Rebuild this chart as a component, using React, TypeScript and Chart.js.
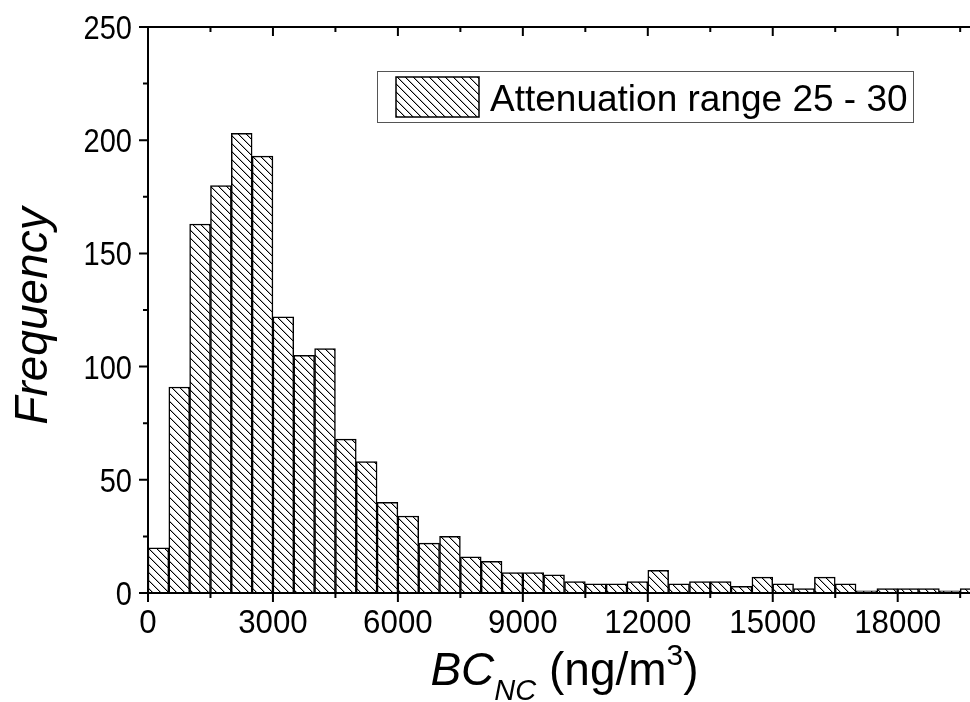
import React, { useEffect, useRef } from "react";
import { Chart, registerables } from "chart.js";

Chart.register(...registerables);

// Histogram bins (start of each 500 ng/m3 bin)
const binStarts = [
  0, 500, 1000, 1500, 2000, 2500, 3000, 3500, 4000, 4500,
  5000, 5500, 6000, 6500, 7000, 7500, 8000, 8500, 9000, 9500,
  10000, 10500, 11000, 11500, 12000, 12500, 13000, 13500, 14000, 14500,
  15000, 15500, 16000, 16500, 17000, 17500, 18000, 18500, 19000, 19500,
];
const binWidth = 500;
const frequencies = [
  20, 91, 163, 180, 203, 193, 122, 105, 108, 68,
  58, 40, 34, 22, 25, 16, 14, 9, 9, 8,
  5, 4, 4, 5, 10, 4, 5, 5, 3, 7,
  4, 2, 7, 4, 1, 2, 2, 2, 1, 2,
];
const xMajorTicks = [0, 3000, 6000, 9000, 12000, 15000, 18000];
const xMinorTicks = [1500, 4500, 7500, 10500, 13500, 16500, 19500];
const yMajorTicks = [0, 50, 100, 150, 200, 250];
const yMinorTicks = [25, 75, 125, 175, 225];
const legendLabel = "Attenuation range 25 - 30";
const yTitle = "Frequency";

const FONT = '"Liberation Sans", Arial, Helvetica, sans-serif';

function makeHatch(): CanvasPattern | string {
  const s = 8;
  const c = document.createElement("canvas");
  c.width = s;
  c.height = s;
  const g = c.getContext("2d");
  if (!g) return "#fff";
  g.fillStyle = "#fff";
  g.fillRect(0, 0, s, s);
  g.fillStyle = "#000";
  for (let i = 0; i < s; i++) g.fillRect(i, i, 1, 1);
  g.fillStyle = "rgba(0,0,0,0.3)";
  for (let i = 0; i < s; i++) g.fillRect((i + 1) % s, i, 1, 1);
  const p = g.createPattern(c, "repeat");
  return p || "#fff";
}

function drawScaledText(ctx: any, text: string, x: number, y: number, sx: number, align: string) {
  const w = ctx.measureText(text).width * sx;
  let left = x;
  if (align === "center") left = x - w / 2;
  else if (align === "right") left = x - w;
  ctx.save();
  ctx.translate(left, y);
  ctx.scale(sx, 1);
  ctx.textAlign = "left";
  ctx.fillText(text, 0, 0);
  ctx.restore();
}

const axesPlugin = {
  id: "customAxes",
  afterDraw(chart: any) {
    const { ctx, chartArea: a, scales } = chart;
    const xs = scales.x;
    const ys = scales.y;
    ctx.save();
    ctx.strokeStyle = "#000";
    ctx.lineWidth = 2;
    ctx.lineCap = "square";
    ctx.beginPath();
    ctx.moveTo(a.left, a.top);
    ctx.lineTo(a.right, a.top);
    ctx.moveTo(a.left, a.top);
    ctx.lineTo(a.left, a.bottom);
    ctx.moveTo(a.left, a.bottom);
    ctx.lineTo(a.right, a.bottom);
    ctx.moveTo(a.right, a.top);
    ctx.lineTo(a.right, a.bottom);
    ctx.stroke();

    ctx.lineCap = "butt";
    ctx.beginPath();
    const tick = (v: number, len: number) => {
      const x = xs.getPixelForValue(v);
      ctx.moveTo(x, a.bottom);
      ctx.lineTo(x, a.bottom + len);
      ctx.moveTo(x, a.top);
      ctx.lineTo(x, a.top + len);
    };
    xMajorTicks.forEach((v) => tick(v, 9));
    xMinorTicks.forEach((v) => tick(v, 5));
    const ytick = (v: number, len: number) => {
      const y = ys.getPixelForValue(v);
      ctx.moveTo(a.left, y);
      ctx.lineTo(a.left - len, y);
      ctx.moveTo(a.right, y);
      ctx.lineTo(a.right - len, y);
    };
    yMajorTicks.forEach((v) => ytick(v, 9));
    yMinorTicks.forEach((v) => ytick(v, 5));
    ctx.stroke();

    // tick labels
    ctx.fillStyle = "#000";
    ctx.textBaseline = "alphabetic";
    ctx.font = `34px ${FONT}`;
    xMajorTicks.forEach((v) => {
      drawScaledText(ctx, String(v), xs.getPixelForValue(v), a.bottom + 40, 0.92, "center");
    });
    ctx.font = `33px ${FONT}`;
    yMajorTicks.forEach((v) => {
      drawScaledText(ctx, String(v), a.left - 16, ys.getPixelForValue(v) + 12, 0.88, "right");
    });

    // y title
    ctx.save();
    ctx.translate(34, 316);
    ctx.rotate(-Math.PI / 2);
    ctx.font = `italic 46px ${FONT}`;
    ctx.textAlign = "center";
    ctx.textBaseline = "middle";
    ctx.fillText(yTitle, 0, 0);
    ctx.restore();

    // x title: BC_NC (ng/m^3)
    const parts: [string, string, number][] = [
      ["BC", `italic 46px ${FONT}`, 0],
      ["NC", `italic 29px ${FONT}`, 15],
      [" (ng/m", `46px ${FONT}`, 0],
      ["3", `30px ${FONT}`, -20],
      [")", `46px ${FONT}`, 0],
    ];
    let total = 0;
    const widths = parts.map(([t, f]) => {
      ctx.font = f;
      const w = ctx.measureText(t).width;
      total += w;
      return w;
    });
    let x = (a.left + a.right) / 2 - total / 2;
    const base = 685;
    ctx.textAlign = "left";
    ctx.textBaseline = "alphabetic";
    parts.forEach(([t, f, dy], i) => {
      ctx.font = f;
      ctx.fillText(t, x, base + dy);
      x += widths[i];
    });

    // legend
    ctx.lineWidth = 1;
    ctx.strokeStyle = "#555";
    ctx.strokeRect(377.5, 71.5, 536, 51);
    const pat = (chart.data.datasets[0] as any).backgroundColor;
    ctx.fillStyle = pat;
    ctx.fillRect(396, 77, 83, 40);
    ctx.lineWidth = 1.5;
    ctx.strokeStyle = "#000";
    ctx.strokeRect(396, 77, 83, 40);
    ctx.fillStyle = "#000";
    ctx.font = `37px ${FONT}`;
    ctx.textAlign = "left";
    ctx.textBaseline = "alphabetic";
    ctx.fillText(legendLabel, 490, 111);
    ctx.restore();
  },
};

export default function App() {
  const ref = useRef<HTMLCanvasElement | null>(null);
  useEffect(() => {
    const canvas = ref.current;
    if (!canvas) return;
    const hatch = makeHatch();
    const chart = new Chart(canvas, {
      type: "bar",
      data: {
        datasets: [
          {
            label: legendLabel,
            data: binStarts.map((s, i) => ({ x: s + binWidth / 2, y: frequencies[i] })),
            backgroundColor: hatch as any,
            borderColor: "#000",
            borderWidth: 1.5,
            barPercentage: 1,
            categoryPercentage: 1,
          },
        ],
      },
      options: {
        animation: false,
        responsive: false,
        devicePixelRatio: 1,
        layout: { padding: { left: 148, top: 27, right: 19, bottom: 109 } },
        plugins: { legend: { display: false }, tooltip: { enabled: false } },
        scales: {
          x: { type: "linear", min: 0, max: 20000, offset: false, display: false },
          y: { type: "linear", min: 0, max: 250, display: false },
        },
      },
      plugins: [axesPlugin],
    });
    return () => chart.destroy();
  }, []);
  return (
    <div
      style={{
        position: "fixed",
        left: 0,
        top: 0,
        width: 970,
        height: 702,
        overflow: "hidden",
        background: "#fff",
      }}
    >
      <canvas ref={ref} width={1000} height={702} style={{ display: "block", width: 1000, height: 702 }} />
    </div>
  );
}
